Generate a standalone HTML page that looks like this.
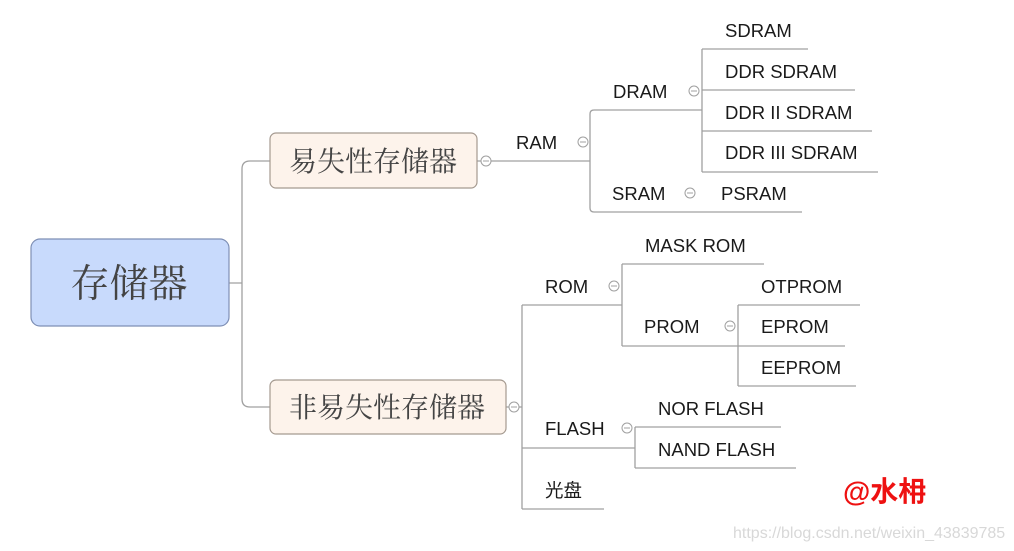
<!DOCTYPE html>
<html><head><meta charset="utf-8"><style>
html,body{margin:0;padding:0;background:#fff;}
svg{display:block;}
text{font-family:"Liberation Sans","Noto Sans CJK SC",sans-serif;fill:#1a1a1a;font-size:18.5px;}
</style></head><body>
<svg width="1014" height="551" viewBox="0 0 1014 551" xmlns="http://www.w3.org/2000/svg">
<g fill="none" stroke="#a0a0a0" stroke-width="1.3">
<path d="M229 283H242M270 161H250Q242 161 242 169V399Q242 407 250 407H270"/>
<path d="M477 161H590M702 110H594Q590 110 590 114V208Q590 212 594 212H802"/>
<path d="M702 49V172M702 49H808M702 90H855M702 131H872M702 172H878"/>
<path d="M506 407H522M522 305V509M522 305H622M622 264V346M622 264H764M622 346H845M738 305V386M738 305H860M738 386H856"/>
<path d="M522 448H635M635 427V468M635 427H781M635 468H796M522 509H604"/>
</g>
<g fill="#fff" stroke="#a0a0a0" stroke-width="1">
<circle cx="486" cy="161" r="5"/><circle cx="583" cy="142" r="5"/><circle cx="694" cy="91" r="5"/><circle cx="690" cy="193" r="5"/>
<circle cx="514" cy="407" r="5"/><circle cx="614" cy="286" r="5"/><circle cx="730" cy="326" r="5"/><circle cx="627" cy="428" r="5"/>
</g>
<g stroke="#a0a0a0" stroke-width="1">
<path d="M483 161h6M580 142h6M691 91h6M687 193h6M511 407h6M611 286h6M727 326h6M624 428h6"/>
</g>
<rect x="31" y="239" width="198" height="87" rx="9" fill="#c8dafc" stroke="#7e8fb5" stroke-width="1.2"/>
<rect x="270" y="133" width="207" height="55" rx="6" fill="#fdf3eb" stroke="#a59a90" stroke-width="1.2"/>
<rect x="270" y="380" width="236" height="54" rx="6" fill="#fdf3eb" stroke="#a59a90" stroke-width="1.2"/>
<text x="129" y="297" text-anchor="middle" style="font-family:'Noto Serif CJK SC',serif;font-size:39px;fill:#444">存储器</text>
<text x="373" y="171" text-anchor="middle" style="font-family:'Noto Serif CJK SC',serif;font-size:28px;fill:#444">易失性存储器</text>
<text x="387" y="417" text-anchor="middle" style="font-family:'Noto Serif CJK SC',serif;font-size:28px;fill:#444">非易失性存储器</text>
<text x="516" y="149">RAM</text>
<text x="613" y="98">DRAM</text>
<text x="725" y="37">SDRAM</text>
<text x="725" y="78">DDR SDRAM</text>
<text x="725" y="119">DDR II SDRAM</text>
<text x="725" y="159">DDR III SDRAM</text>
<text x="612" y="200">SRAM</text>
<text x="721" y="200">PSRAM</text>
<text x="545" y="293">ROM</text>
<text x="645" y="252">MASK ROM</text>
<text x="644" y="333">PROM</text>
<text x="761" y="293">OTPROM</text>
<text x="761" y="333">EPROM</text>
<text x="761" y="374">EEPROM</text>
<text x="545" y="435">FLASH</text>
<text x="658" y="415">NOR FLASH</text>
<text x="658" y="456">NAND FLASH</text>
<text x="545" y="497">光盘</text>
<text x="843" y="501" style="font-size:28px;font-weight:bold;fill:#ee1111">@水枏</text>
<text x="733" y="538" style="font-size:16px;fill:#d8d8d8">https://blog.csdn.net/weixin_43839785</text>
</svg>
</body></html>
